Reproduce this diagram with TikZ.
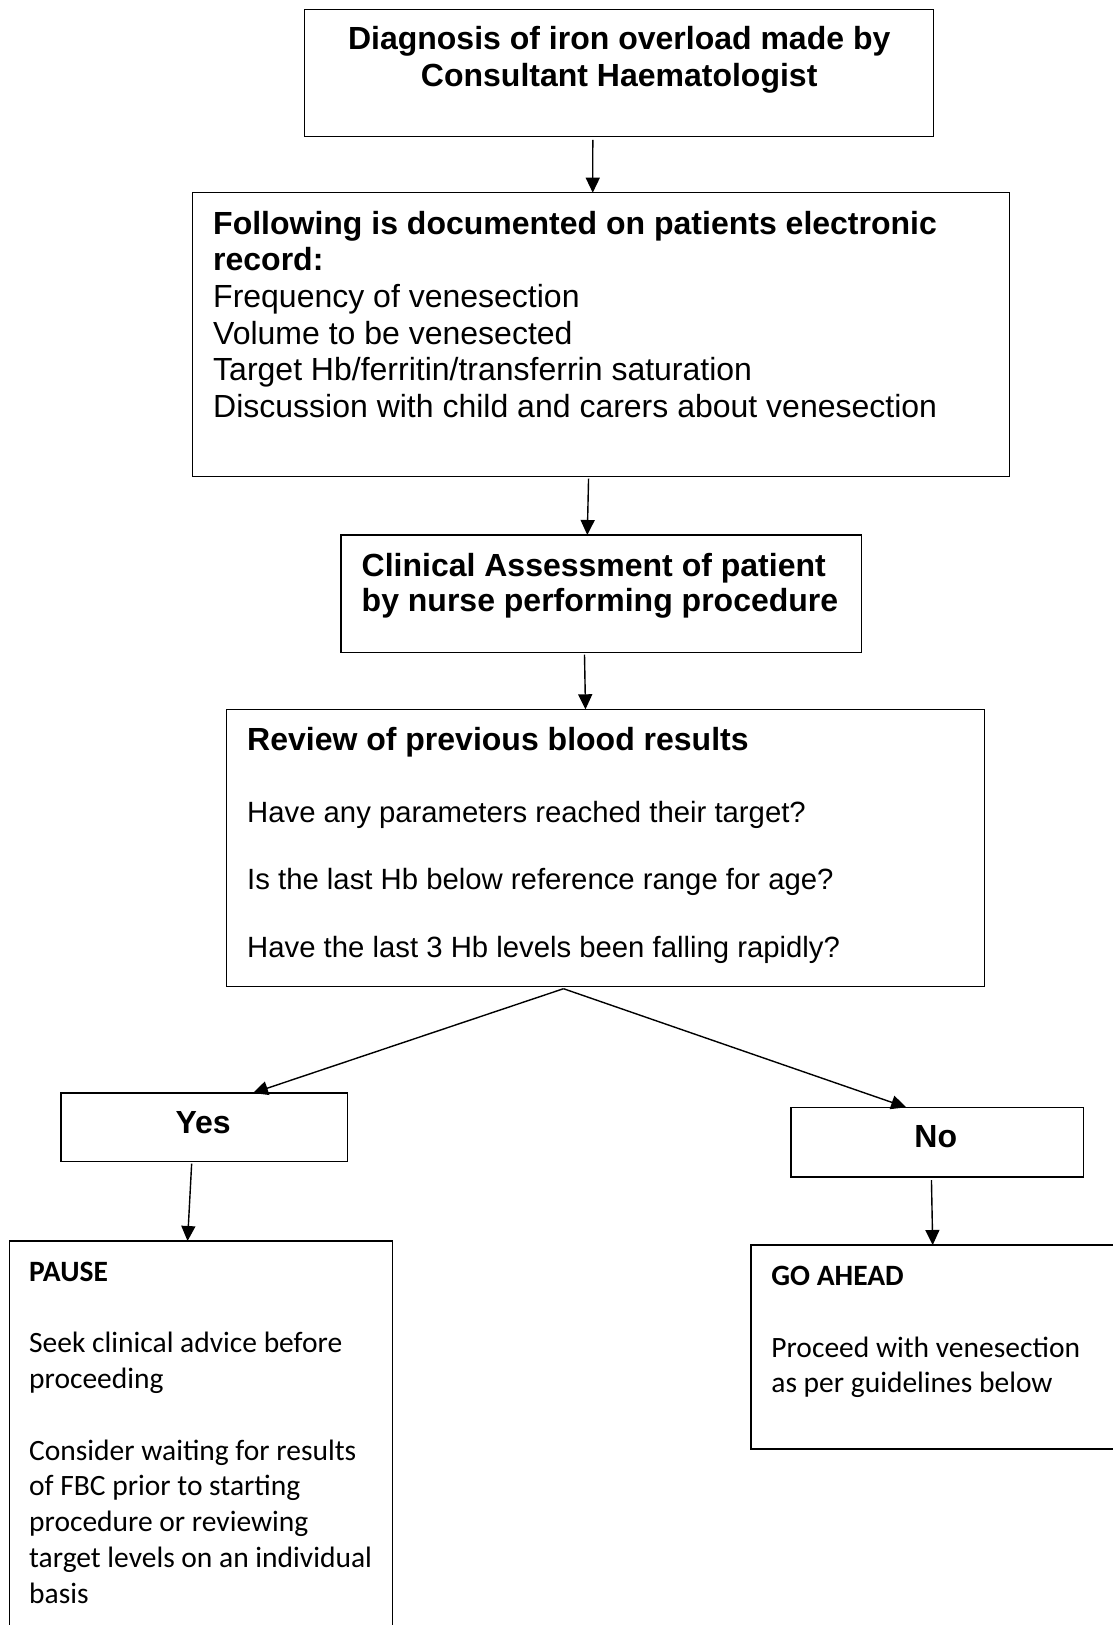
\documentclass[tikz,border=0pt]{standalone}
\usepackage{fontspec}
\setmainfont{Liberation Sans}
\newfontfamily\calfont{Carlito}
\usetikzlibrary{arrows.meta}
\begin{document}
\begin{tikzpicture}[x=1pt,y=-1pt,
  box/.style={draw=black, line width=1.3pt, rectangle, inner sep=0pt, outer sep=0pt, anchor=north west},
  arr/.style={line width=1.4pt, -{Triangle[length=15pt,width=14pt]}},
  txt/.style={inner sep=0pt, anchor=base west},
  ctxt/.style={inner sep=0pt, anchor=base},
  qtxt/.style={inner sep=0pt, anchor=base west, font=\fontsize{29.3}{34}\selectfont}]
\fill[white] (0,0) rectangle (1113,1625);
\useasboundingbox (0,0) rectangle (1113,1625);

% boxes
\node[box, minimum width=629pt, minimum height=127.5pt] (b1) at (304.7,9.3) {};
\node[box, minimum width=816.7pt, minimum height=284pt] (b2) at (192.7,192.7) {};
\node[box, minimum width=520.2pt, minimum height=117.7pt] (b3) at (341,535) {};
\node[box, minimum width=757.8pt, minimum height=277.4pt] (b4) at (226.7,709.3) {};
\node[box, minimum width=286.1pt, minimum height=68.7pt] (yes) at (61.1,1093) {};
\node[box, minimum width=292.3pt, minimum height=69.7pt] (no) at (791,1107.3) {};
\node[box, minimum width=383.3pt, minimum height=400pt] (pause) at (9.5,1241) {};
\node[box, minimum width=365pt, minimum height=204pt] (go) at (751,1245) {};

% texts
\node[ctxt] (t1) at (619.2,49.8) {\parbox[t]{620pt}{\centering\fontsize{32}{37}\selectfont\bfseries
Diagnosis of iron overload made by\\Consultant Haematologist}};
\node[txt] (t2) at (213,234) {\parbox[t]{800pt}{\fontsize{32}{36.7}\selectfont
\textbf{Following is documented on patients electronic}\\
\textbf{record:}\\
Frequency of venesection\\
Volume to be venesected\\
Target Hb/ferritin/transferrin saturation\\
Discussion with child and carers about venesection}};
\node[txt] (t3) at (361.5,576) {\parbox[t]{500pt}{\fontsize{32}{35.7}\selectfont\bfseries
Clinical Assessment of patient\\by nurse performing procedure}};
\node[txt, font=\fontsize{32}{36}\selectfont\bfseries] (t4) at (247,750.7) {Review of previous blood results};
\node[qtxt] (q1) at (247,822.4) {Have any parameters reached their target?};
\node[qtxt] (q2) at (247,889.8) {Is the last Hb below reference range for age?};
\node[qtxt] (q3) at (247,957.2) {Have the last 3 Hb levels been falling rapidly?};
\node[ctxt] (tyes) at (203.1,1133) {\fontsize{32}{36.7}\selectfont\bfseries Yes};
\node[ctxt] (tno) at (935.8,1147.8) {\fontsize{32}{36.7}\selectfont\bfseries No};
\node[txt] (tp) at (29,1281) {\parbox[t]{370pt}{\calfont\fontsize{29.5}{35.8}\selectfont
\textbf{PAUSE}\\[35.8pt]
Seek clinical advice before\\
proceeding\\[35.8pt]
Consider waiting for results\\
of FBC prior to starting\\
procedure or reviewing\\
target levels on an individual\\
basis}};
\node[txt] (tg) at (771.2,1285.4) {\parbox[t]{350pt}{\calfont\fontsize{29.5}{35.8}\selectfont
\textbf{GO AHEAD}\\[35.8pt]
Proceed with venesection\\
as per guidelines below}};

% connectors
\draw[arr] ([xshift=-26.4pt,yshift=-3pt]b1.south) -- ([xshift=-8.3pt]b2.north);
\draw[arr] ([xshift=-12.5pt,yshift=-2pt]b2.south) -- ([xshift=-13.8pt]b3.north);
\draw[arr] ([xshift=-16.6pt,yshift=-2pt]b3.south) -- ([xshift=-20.1pt]b4.north);
\draw[arr] ([xshift=-42.1pt,yshift=-2pt]b4.south) -- ([xshift=48.8pt]yes.north);
\draw[arr] ([xshift=-42.1pt,yshift=-2pt]b4.south) -- ([xshift=-31pt]no.north);
\draw[arr] ([xshift=-12.5pt,yshift=-2pt]yes.south) -- ([xshift=-13.6pt]pause.north);
\draw[arr] ([xshift=-5.7pt,yshift=-3pt]no.south) -- ([xshift=-0.8pt]go.north);
\end{tikzpicture}
\end{document}
